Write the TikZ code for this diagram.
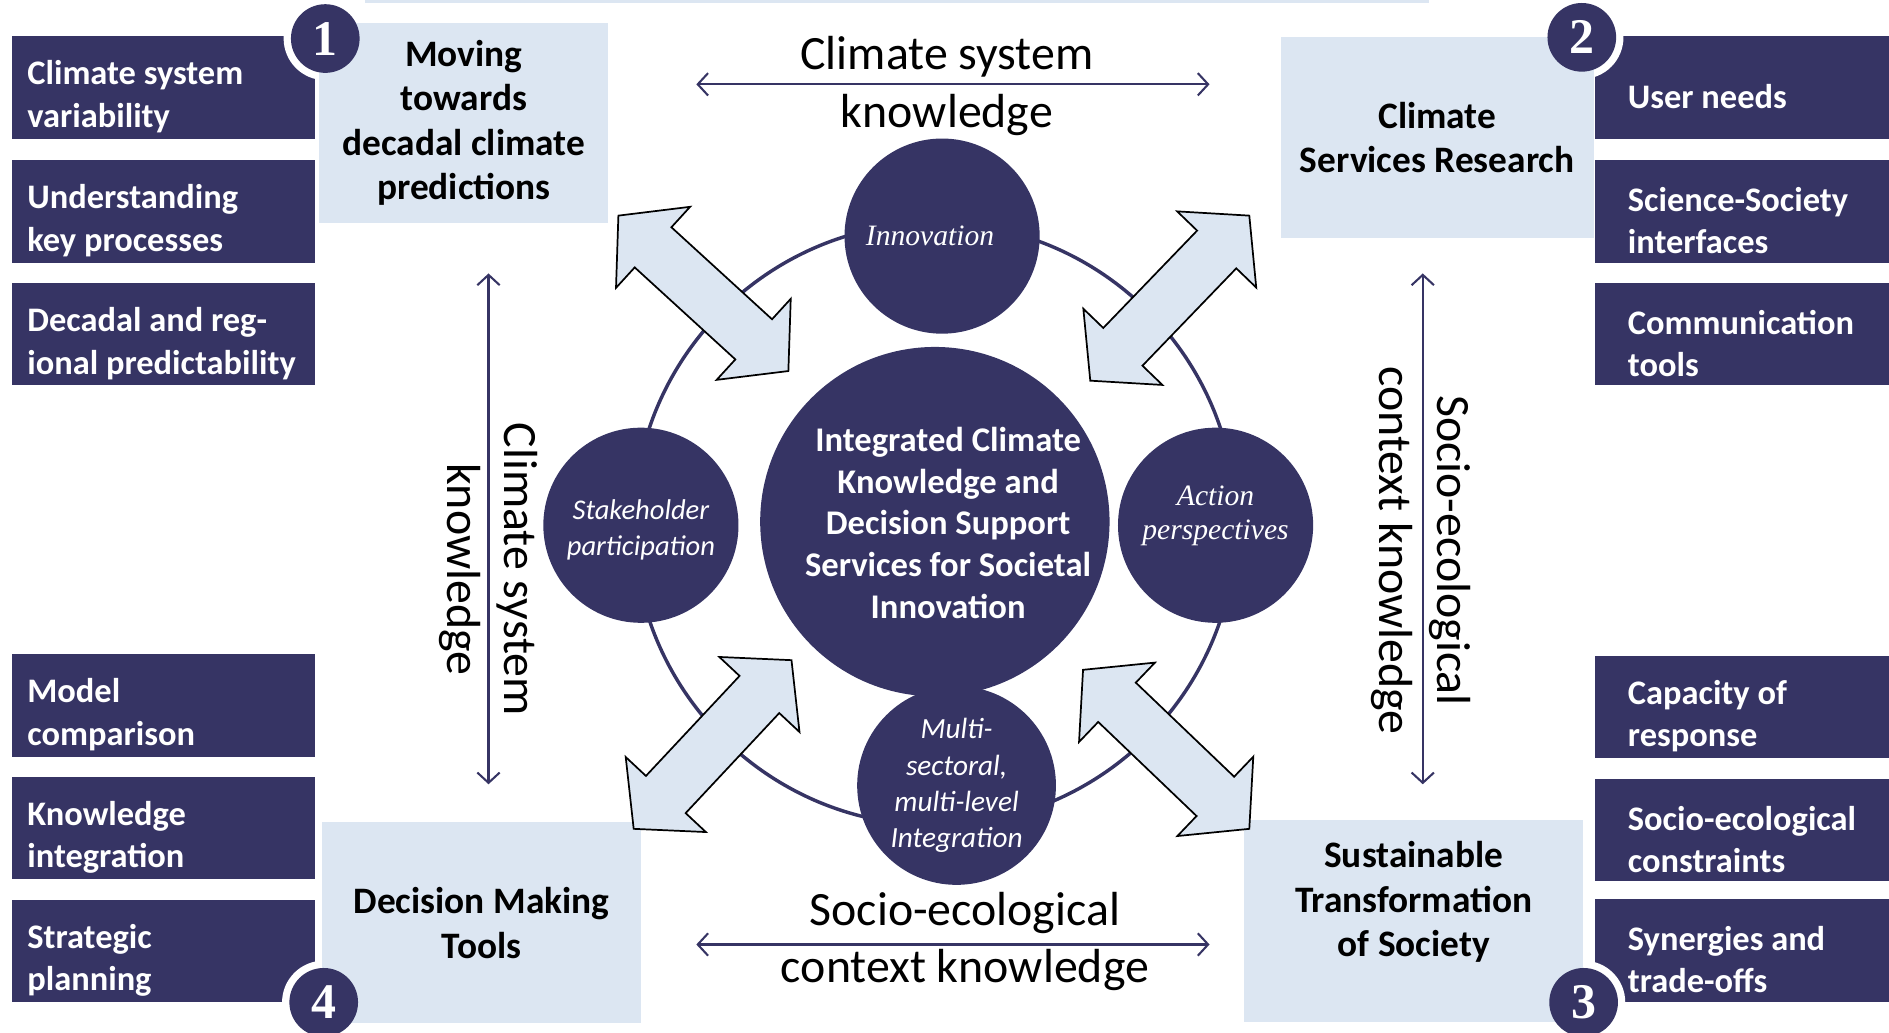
\documentclass[tikz,border=0pt]{standalone}
\usepackage{fontspec}
\setmainfont{Carlito}
\newfontfamily\timesfont{Liberation Serif}
\usetikzlibrary{calc,arrows.meta}
\definecolor{navy}{RGB}{54,52,100}
\definecolor{paleblue}{RGB}{220,230,242}
\tikzset{
  darkbox/.style={fill=navy, text=white, font=\bfseries\fontsize{10}{12.25}\selectfont, text width=80pt, align=flush left, inner xsep=4.6pt, inner ysep=0pt, minimum height=29.75pt, anchor=west, execute at begin node=\rule{0pt}{12.4pt}},
  lightbox/.style={fill=paleblue, font=\bfseries\fontsize{10.85}{12.95}\selectfont, align=flush center, inner sep=0pt},
  badge/.style={circle, fill=navy, text=white, inner sep=0pt, minimum size=19.95pt, font=\timesfont\bfseries\fontsize{14.5}{14.5}\selectfont},
  topic/.style={circle, fill=navy, text=white, inner sep=0pt, minimum size=56.7pt, align=flush center},
  coretext/.style={text=white, align=center, inner sep=0pt, font=\bfseries\fontsize{10.05}{12.1}\selectfont},
  ring/.style={draw=navy, line width=1pt},
  flowarrow/.style={fill=paleblue, draw=black, line width=0.5pt, line join=miter},
  link/.style={draw=navy, line width=0.6pt},
  bigtext/.style={font=\fontsize{13.9}{16.8}\selectfont, align=center, inner sep=0pt}
}
\newcommand\doubleflow[2]{%
  \draw[flowarrow] (#1) -- ($(#1)!13.65pt!(#2)!15.95pt!90:(#2)$) -- ($(#1)!13.65pt!(#2)!7.9pt!90:(#2)$) -- ($(#2)!13.65pt!(#1)!7.9pt!-90:(#1)$) -- ($(#2)!13.65pt!(#1)!15.95pt!-90:(#1)$) -- (#2) -- ($(#2)!13.65pt!(#1)!15.95pt!90:(#1)$) -- ($(#2)!13.65pt!(#1)!7.9pt!90:(#1)$) -- ($(#1)!13.65pt!(#2)!7.9pt!-90:(#2)$) -- ($(#1)!13.65pt!(#2)!15.95pt!-90:(#2)$) -- cycle;}
\begin{document}
\begin{tikzpicture}[x=0.35pt, y=-0.35pt, >={Straight Barb[length=3pt,width=6.5pt]}]
  \useasboundingbox (0,0) rectangle (1568,857);
  \clip (0,0) rectangle (1568,857);
  \fill[paleblue] (303,0) rectangle (1186,2.5);

  \foreach \nm/\y/\txt in {csv/72.5/{Climate system\\variability}, ukp/175.5/{Understanding\\key processes}, drp/277.5/{Decadal and reg-\\ional predictability}, mc/585.5/{Model\\comparison}, ki/687.5/{Knowledge\\integration}, sp/789.5/{Strategic\\planning}}
    \node[darkbox, text width=79pt] (\nm) at (9,\y) {\txt};
  \foreach \nm/\y/\txt in {un/72.5/{User needs}, ssi/175.5/{Science-Society\\interfaces}, ct/277.5/{Communication\\tools}, cr/587/{Capacity of\\response}, sec/689/{Socio-ecological\\constraints}, sto/789/{Synergies and\\trade-offs}}
    \node[darkbox, inner xsep=9.7pt] (\nm) at (1323,\y) {\txt};

  \coordinate (b1) at (270,32);
  \coordinate (b2) at (1313,31);
  \coordinate (b3) at (1314.5,832);
  \coordinate (b4) at (268.7,832);
  \foreach \b in {b1,b2,b3,b4} \fill[white] (\b) circle (12.1pt);

  \node[lightbox, minimum width=84pt, minimum height=58.1pt, text width=84pt] (mtd) at (385,102) {Moving\\towards\\decadal climate\\predictions};
  \node[lightbox, minimum width=91pt, minimum height=58.45pt, text width=91pt] (csr) at (1193,114) {Climate\\Services Research};
  \node[lightbox, minimum width=92.9pt, minimum height=58.3pt, text width=92.9pt] (dmt) at (399.7,766) {Decision Making\\Tools};
  \node[lightbox, minimum width=98.35pt, minimum height=58.45pt, text width=98.35pt, execute at end node=\par\vspace*{11pt}] (sts) at (1173.5,764.5) {Sustainable\\Transformation\\of Society};

  \node[badge] (n1) at (b1) {1};
  \node[badge] (n2) at (b2) {2};
  \node[badge] (n3) at (b3) {3};
  \node[badge] (n4) at (b4) {4};

  \coordinate (hub) at (776,435);
  \draw[ring] (hub) circle (87.5pt);
  \node[topic, minimum size=101.5pt] (core) at (776,433) {};
  \node[coretext] (corelabel) at (787,434) {Integrated Climate\\Knowledge and\\Decision Support\\Services for Societal\\Innovation};
  \node[topic, font=\timesfont\itshape\fontsize{8.6}{9.8}\selectfont] (innov) at (782,196) {Innovation\hspace*{7pt}};
  \node[topic, text width=46pt, font=\itshape\fontsize{8.3}{10.5}\selectfont, execute at begin node=\rule{0pt}{8.6pt}] (stake) at (532,436) {Stakeholder\\participation};
  \node[topic, text width=50pt, font=\timesfont\itshape\fontsize{8.6}{9.8}\selectfont, execute at end node=\par\vspace*{5.6pt}] (action) at (1009,436) {Action\\perspectives};
  \node[topic, minimum size=57.75pt, font=\itshape\fontsize{8.5}{10.5}\selectfont] (multi) at (794,652) {Multi-\\sectoral,\\multi-level\\Integration};

  \coordinate (tlo) at (513.3,179);
  \coordinate (tli) at (654.4,308);
  \coordinate (tro) at (1037,179);
  \coordinate (tri) at (905,316);
  \coordinate (blo) at (526,688);
  \coordinate (bli) at (657,548);
  \coordinate (bro) at (1037,688);
  \coordinate (bri) at (899,556);
  \doubleflow{tlo}{tli}
  \doubleflow{tro}{tri}
  \doubleflow{blo}{bli}
  \doubleflow{bro}{bri}

  \coordinate (tw) at (578,70);
  \coordinate (te) at (1004,70);
  \coordinate (bw) at (578,784);
  \coordinate (be) at (1004,784);
  \coordinate (lt) at (405.5,227);
  \coordinate (lb) at (405.5,651);
  \coordinate (rt) at (1181,227);
  \coordinate (rb) at (1181,651);
  \draw[link, <->] (tw) -- (te);
  \draw[link, <->] (bw) -- (be);
  \draw[link, <->] (lt) -- (lb);
  \draw[link, <->] (rt) -- (rb);
  \node[bigtext] (ktop) at (786,71.5) {Climate system\\knowledge};
  \node[bigtext] (kbottom) at (801,781.5) {Socio-ecological\\context knowledge};
  \node[bigtext, rotate=-90] (kleft) at (405.5,472.5) {Climate system\\knowledge};
  \node[bigtext, rotate=-90] (kright) at (1179.5,457) {Socio-ecological\\context knowledge};
\end{tikzpicture}
\end{document}
